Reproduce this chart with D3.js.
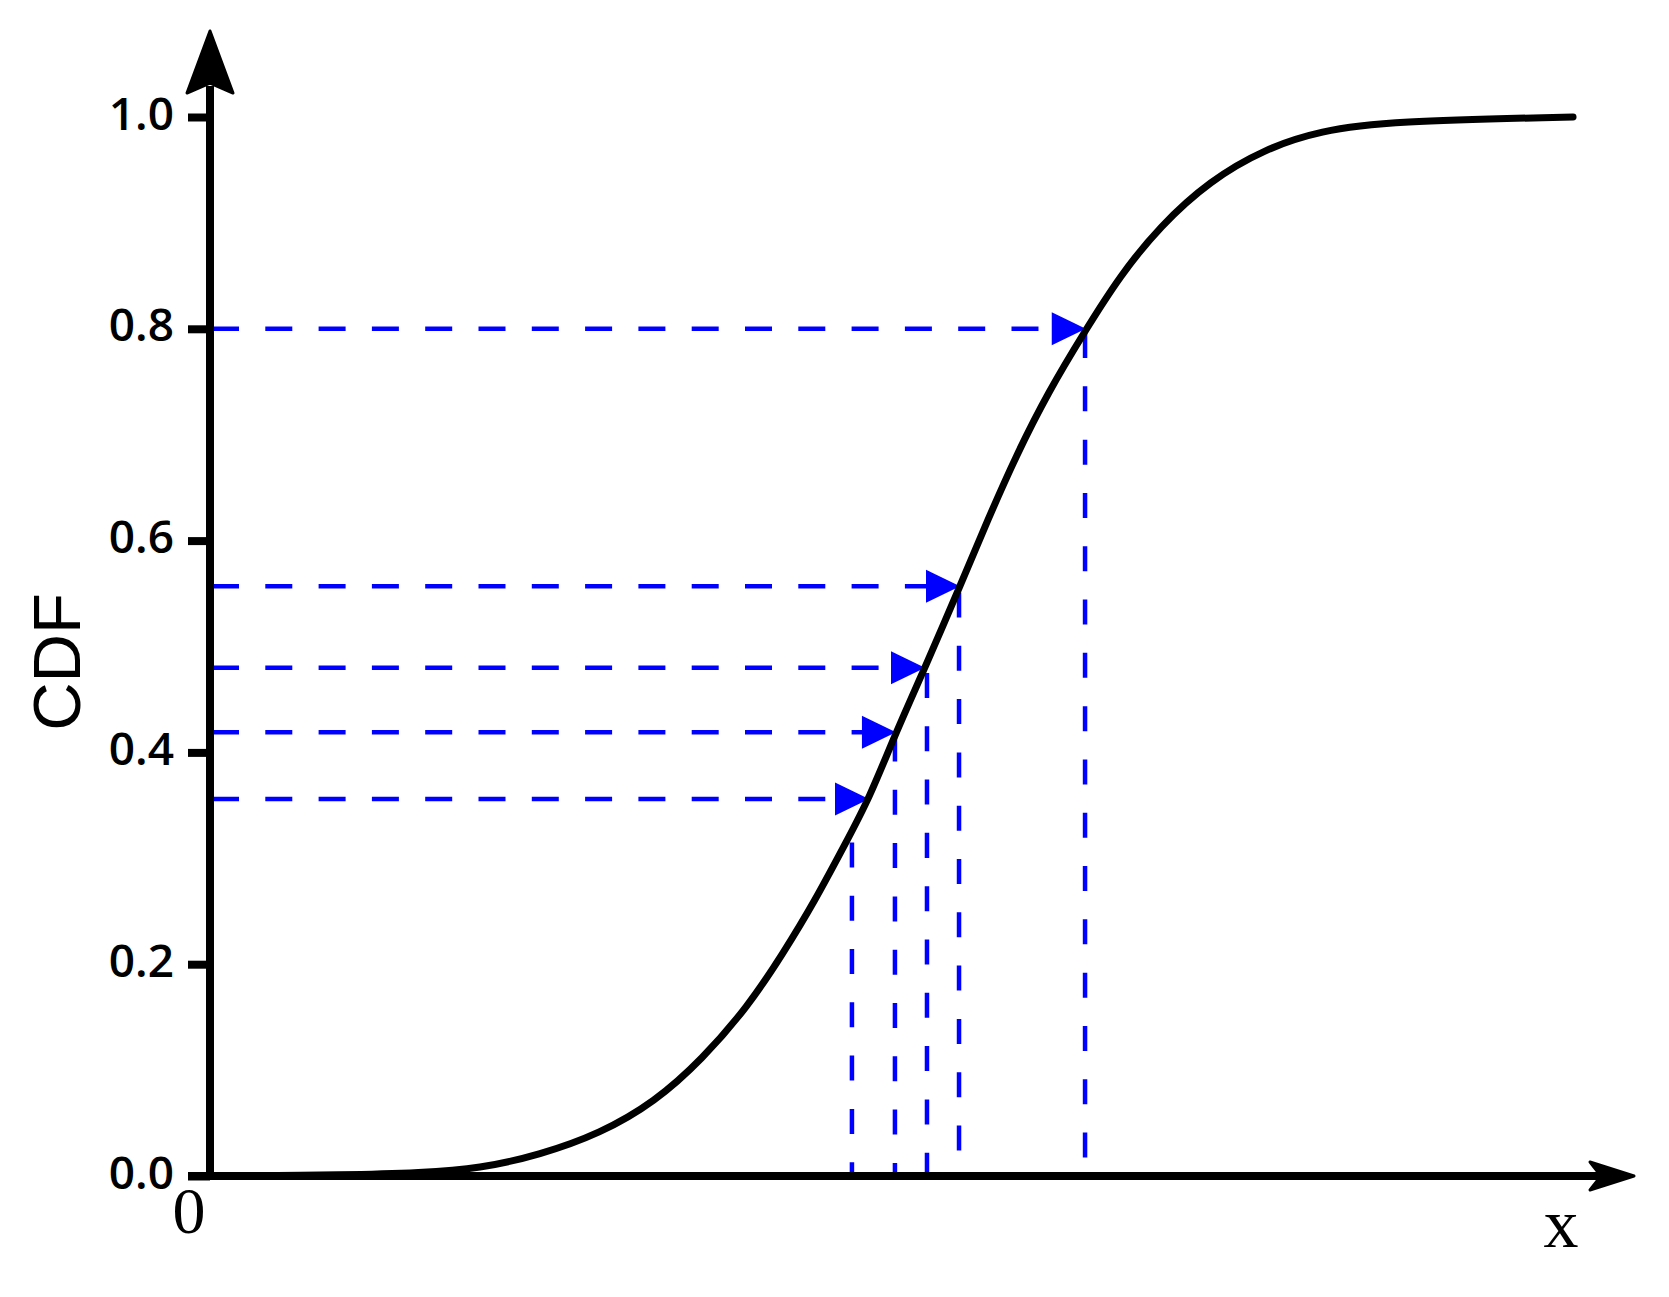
<!DOCTYPE html>
<html>
<head>
<meta charset="utf-8">
<script src="https://cdn.jsdelivr.net/npm/d3@7"></script>
<style>
  html, body { margin: 0; padding: 0; background: #ffffff; }
  svg { display: block; }
</style>
</head>
<body>
<svg id="chart" width="1669" height="1297"></svg>
<script>
// ---------- data ----------
const yTicks = [0.0, 0.2, 0.4, 0.6, 0.8, 1.0];
const yTickLabels = ["0.0", "0.2", "0.4", "0.6", "0.8", "1.0"];
const xTickLabels = ["0"];

// CDF curve (x in arbitrary units, y = cumulative probability)
const curveX = [0, 0.983, 1.475, 1.896, 2.317, 2.739, 3.125, 3.455, 3.778, 4.024, 4.249, 4.466, 4.628, 4.817, 5.021, 5.267, 5.463, 5.660, 5.885, 6.145, 6.390, 6.671, 7.022, 7.409, 7.795, 8.287, 9.572];
const curveY = [0, 0.001, 0.003, 0.007, 0.020, 0.040, 0.070, 0.110, 0.160, 0.210, 0.260, 0.315, 0.356, 0.419, 0.480, 0.557, 0.620, 0.680, 0.740, 0.798, 0.850, 0.897, 0.940, 0.970, 0.987, 0.996, 1.0];

// horizontal guide lines (levels) and where their arrows touch the curve
const guideLevels = [0.800, 0.557, 0.480, 0.419, 0.356];
const guideArrowX = [6.150, 5.267, 5.021, 4.817, 4.628];

// vertical drop lines: x position and the CDF height where they start
const dropX   = [4.508, 4.810, 5.035, 5.260, 6.145];
const dropTop = [0.315, 0.415, 0.475, 0.551, 0.796];

// ---------- setup ----------
const svg = d3.select("#chart");
svg.append("rect").attr("width", 1669).attr("height", 1297).attr("fill", "#ffffff");

const x = d3.scaleLinear().domain([0, 10]).range([210, 1634]);
const y = d3.scaleLinear().domain([0, 1]).range([1176, 117]);

const blue = "#0000ff";

// ---------- blue guides ----------
const guides = svg.append("g");
guideLevels.forEach((lv, i) => {
  const yy = y(lv);
  const tip = x(guideArrowX[i]);
  guides.append("line")
    .attr("x1", x(0) + 2).attr("x2", tip - 20)
    .attr("y1", yy).attr("y2", yy)
    .attr("stroke", blue).attr("stroke-width", 4.5)
    .attr("stroke-dasharray", "27,26.3");
  guides.append("path")
    .attr("d", `M${tip},${yy} L${tip - 34},${yy - 16.5} L${tip - 34},${yy + 16.5} Z`)
    .attr("fill", blue);
});
dropX.forEach((dx, i) => {
  guides.append("line")
    .attr("x1", x(dx)).attr("x2", x(dx))
    .attr("y1", y(dropTop[i])).attr("y2", y(0))
    .attr("stroke", blue).attr("stroke-width", 4.5)
    .attr("stroke-dasharray", "25,28.3");
});

// ---------- curve ----------
const pts = curveX.map((v, i) => [v, curveY[i]]);
svg.append("path")
  .datum(pts)
  .attr("d", d3.line().x(d => x(d[0])).y(d => y(d[1])).curve(d3.curveBasis))
  .attr("fill", "none")
  .attr("stroke", "#000")
  .attr("stroke-width", 7)
  .attr("stroke-linecap", "round");

// ---------- axes ----------
const yAxis = d3.axisLeft(y)
  .tickValues(yTicks)
  .tickSize(22)
  .tickPadding(14)
  .tickFormat((d, i) => yTickLabels[i]);

const gy = svg.append("g").attr("transform", `translate(${x(0)},0)`).call(yAxis);
gy.select(".domain").remove();
gy.selectAll(".tick line").attr("stroke", "#000").attr("stroke-width", 8);
gy.selectAll(".tick text")
  .attr("fill", "#000")
  .attr("dy", null)
  .attr("y", 12)
  .style("font-family", "'Open Sans', 'Noto Sans', sans-serif")
  .style("font-size", "46px")
  .style("font-weight", "600");

// y axis line + arrow
svg.append("line")
  .attr("x1", x(0)).attr("x2", x(0))
  .attr("y1", y(0) + 4).attr("y2", 86)
  .attr("stroke", "#000").attr("stroke-width", 8);
svg.append("path")
  .attr("d", `M${x(0)},31 L${x(0) + 23},93 L${x(0)},83 L${x(0) - 23},93 Z`)
  .attr("fill", "#000").attr("stroke", "#000").attr("stroke-width", 3).attr("stroke-linejoin", "round");

// x axis line + arrow
svg.append("line")
  .attr("x1", x(0) - 22).attr("x2", 1604)
  .attr("y1", y(0)).attr("y2", y(0))
  .attr("stroke", "#000").attr("stroke-width", 8);
svg.append("path")
  .attr("d", `M1634,${y(0)} L1590,${y(0) - 14} L1601,${y(0)} L1590,${y(0) + 14} Z`)
  .attr("fill", "#000").attr("stroke", "#000").attr("stroke-width", 3).attr("stroke-linejoin", "round");

// x origin label
svg.append("text")
  .attr("x", x(0) - 21).attr("y", y(0) + 57)
  .attr("text-anchor", "middle")
  .style("font-family", "'Liberation Serif', 'DejaVu Serif', serif")
  .style("font-size", "66px")
  .text(xTickLabels[0]);

// x axis title
svg.append("text")
  .attr("x", 1561).attr("y", 1247)
  .attr("text-anchor", "middle")
  .style("font-family", "'Liberation Serif', 'DejaVu Serif', serif")
  .style("font-size", "70px")
  .text("x");

// y axis title
svg.append("text")
  .attr("transform", "translate(80,662) rotate(-90)")
  .attr("text-anchor", "middle")
  .style("font-family", "'Liberation Sans', Arial, sans-serif")
  .style("font-size", "67px")
  .text("CDF");
</script>
</body>
</html>
